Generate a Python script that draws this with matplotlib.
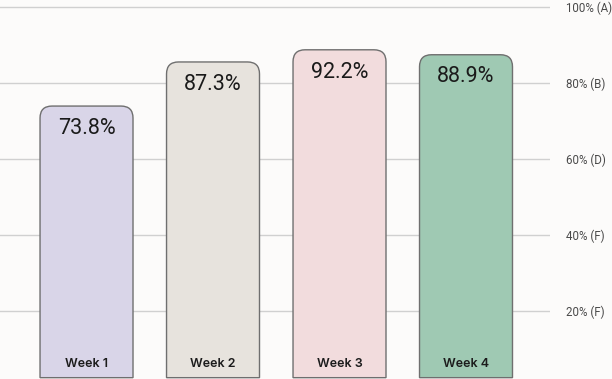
import matplotlib.pyplot as plt
import numpy as np
from matplotlib.path import Path
from matplotlib.patches import PathPatch

# Data
weeks = ['Week 1', 'Week 2', 'Week 3', 'Week 4']
scores = [73.8, 87.3, 92.2, 88.9]          # printed values
bar_tops = [73.9, 85.5, 88.7, 87.4]        # heights as drawn in the picture
colors = ['#d9d5e8', '#e7e3dd', '#f2dcdd', '#9fc9b3']
tick_vals = [100, 80, 60, 40, 20]
tick_labels = ['100% (A)', '80% (B)', '60% (D)', '40% (F)', '20% (F)']

W, H = 612, 379
fig = plt.figure(figsize=(W / 100, H / 100), dpi=100)
fig.patch.set_facecolor('#fcfbfa')
ax = fig.add_axes([0, 0, 550 / W, 1])
ax.set_facecolor('#fcfbfa')

x_lo, x_hi = -0.684, 3.664
y_lo, y_hi = 2.1, 101.8
ax.set_xlim(x_lo, x_hi)
ax.set_ylim(y_lo, y_hi)

# pixels per data unit, for rounding corners as circles
px_x = 550 / (x_hi - x_lo)
px_y = H / (y_hi - y_lo)
r = 12
rx, ry = r / px_x, r / px_y

bar_w = 0.735
base = 2.45


def rounded_top_bar(xc, top, w):
    x0, x1 = xc - w / 2, xc + w / 2
    verts = [(x0, base), (x0, top - ry), (x0, top), (x0 + rx, top),
             (x1 - rx, top), (x1, top), (x1, top - ry), (x1, base), (x0, base)]
    codes = [Path.MOVETO, Path.LINETO, Path.CURVE3, Path.CURVE3,
             Path.LINETO, Path.CURVE3, Path.CURVE3, Path.LINETO, Path.CLOSEPOLY]
    return Path(verts, codes)


for i, (top, c) in enumerate(zip(bar_tops, colors)):
    p = PathPatch(rounded_top_bar(i, top, bar_w), facecolor=c,
                  edgecolor='#6f6f6f', lw=1.0, zorder=3)
    ax.add_patch(p)
    ax.annotate(f'{scores[i]}%', (i, top), xytext=(0, -16), textcoords='offset points',
                ha='center', va='center', fontsize=15.5, family='Roboto',
                fontweight='normal', color='#1a1a1a', zorder=4)
    ax.annotate(weeks[i], (i, y_lo), xytext=(0, 10.5), textcoords='offset points',
                ha='center', va='center', fontsize=9, family='Inter',
                fontweight='semibold', color='#1c1c1c', zorder=4)

# grid
for v in tick_vals:
    ax.axhline(v, color='#d0d0d0', lw=1.0, zorder=1)

ax.set_xticks([])
ax.yaxis.tick_right()
ax.set_yticks(tick_vals)
ax.set_yticklabels(tick_labels, fontsize=8.3, family='Roboto', fontweight='normal',
                   color='#4a4a4a')
ax.tick_params(axis='y', length=0, pad=11.5)
for s in ax.spines.values():
    s.set_visible(False)

fig.savefig('out.png', dpi=100, facecolor=fig.get_facecolor())
